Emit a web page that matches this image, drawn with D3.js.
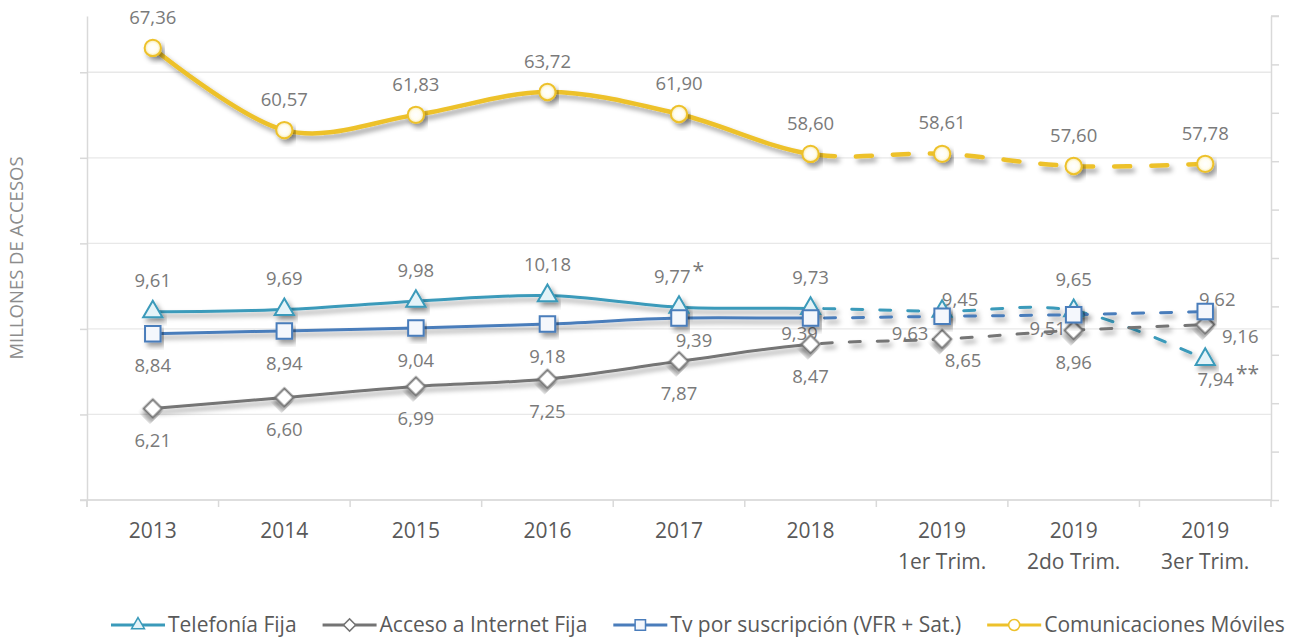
<!DOCTYPE html>
<html>
<head>
<meta charset="utf-8">
<script src="https://cdnjs.cloudflare.com/ajax/libs/d3/7.8.5/d3.min.js"></script>
<style>
  body { margin: 0; background: #fff; }
  svg { display: block; }
</style>
</head>
<body>
<div id="chart"></div>
<script>
// data
var categories = ["2013", "2014", "2015", "2016", "2017", "2018", "2019-T1", "2019-T2", "2019-T3"];
var tickLine1 = ["2013", "2014", "2015", "2016", "2017", "2018", "2019", "2019", "2019"];
var tickLine2 = ["", "", "", "", "", "", "1er Trim.", "2do Trim.", "3er Trim."];

var telefonia = [9.61, 9.69, 9.98, 10.18, 9.77, 9.73, 9.63, 9.65, 7.94];
var internet  = [6.21, 6.60, 6.99, 7.25, 7.87, 8.47, 8.65, 8.96, 9.16];
var tv        = [8.84, 8.94, 9.04, 9.18, 9.39, 9.39, 9.45, 9.51, 9.62];
var moviles   = [67.36, 60.57, 61.83, 63.72, 61.90, 58.60, 58.61, 57.60, 57.78];

var seriesNames = ["Telefonía Fija", "Acceso a Internet Fija", "Tv por suscripción (VFR + Sat.)", "Comunicaciones Móviles"];
var leftGrid = [30, 37.07, 44.14, 51.21, 58.28, 65.35];
var rightTicks = [3, 4.7, 6.4, 8.1, 9.8, 11.5, 13.2, 14.9, 16.6, 18.3, 20];
var lastSolid = "2018";

var width = 1303, height = 638;
var plot = {left: 87, right: 1271, top: 16, bottom: 500};

var svg = d3.select("#chart").append("svg")
    .attr("width", width)
    .attr("height", height);

var defs = svg.append("defs");
var f = defs.append("filter").attr("id", "shadow")
    .attr("x", "-20%").attr("y", "-50%").attr("width", "140%").attr("height", "200%");
f.append("feDropShadow").attr("dx", 3).attr("dy", 4).attr("stdDeviation", 2.8)
    .attr("flood-color", "#000").attr("flood-opacity", 0.38);

var grad = defs.append("radialGradient").attr("id", "ballFill");
grad.append("stop").attr("offset", "0%").attr("stop-color", "#ffffff");
grad.append("stop").attr("offset", "60%").attr("stop-color", "#fffdf0");
grad.append("stop").attr("offset", "100%").attr("stop-color", "#f6e7a6");

var x = d3.scaleBand().domain(categories).range([plot.left, plot.right]);
var cx = function(c) { return x(c) + x.bandwidth() / 2; };
var yL = d3.scaleLinear().domain([30, 70]).range([plot.bottom, plot.top]);
var yR = d3.scaleLinear().domain([3, 20]).range([plot.bottom, plot.top]);

defs.append("clipPath").attr("id", "solidClip").append("rect")
    .attr("x", 0).attr("y", 0).attr("width", cx(lastSolid)).attr("height", height);
defs.append("clipPath").attr("id", "dashClip").append("rect")
    .attr("x", cx(lastSolid)).attr("y", 0).attr("width", width).attr("height", height);

// gridlines
svg.append("g").selectAll("line").data(leftGrid).join("line")
    .attr("x1", plot.left).attr("x2", plot.right)
    .attr("y1", function(d) { return yL(d); })
    .attr("y2", function(d) { return yL(d); })
    .attr("stroke", "#e8e8e8").attr("stroke-width", 1.3);

// axes
var axisColor = "#d9d9d9";
var leftAxis = svg.append("g").attr("transform", `translate(${plot.left},0)`)
    .call(d3.axisLeft(yL).tickValues(leftGrid).tickSize(7).tickSizeOuter(0).tickFormat(""));
var rightAxis = svg.append("g").attr("transform", `translate(${plot.right},0)`)
    .call(d3.axisRight(yR).tickValues(rightTicks).tickSize(8).tickSizeOuter(0).tickFormat(""));
[leftAxis, rightAxis].forEach(function(a) {
  a.selectAll("path,line").attr("stroke", axisColor).attr("stroke-width", 1.5);
});
rightAxis.append("line").attr("y1", plot.top).attr("y2", plot.top).attr("x2", 8)
    .attr("stroke", axisColor).attr("stroke-width", 1.5);
[plot.left, plot.right].forEach(function(px) {
  svg.append("line").attr("x1", px).attr("x2", px)
      .attr("y1", plot.bottom).attr("y2", plot.bottom + 7)
      .attr("stroke", axisColor).attr("stroke-width", 1.5);
});

var xAxis = svg.append("g");
xAxis.append("line").attr("x1", plot.left - 7).attr("x2", plot.right)
    .attr("y1", plot.bottom).attr("y2", plot.bottom)
    .attr("stroke", axisColor).attr("stroke-width", 1.5);
xAxis.selectAll("line.tick").data(categories).join("line").attr("class", "tick")
    .attr("x1", function(d) { return x(d); }).attr("x2", function(d) { return x(d); })
    .attr("y1", plot.bottom).attr("y2", plot.bottom + 7)
    .attr("stroke", axisColor).attr("stroke-width", 1.5);
var tl = xAxis.selectAll("text").data(categories).join("text")
    .attr("x", function(d) { return cx(d); })
    .attr("y", 538)
    .attr("text-anchor", "middle")
    .style("font-family", "'Open Sans', sans-serif")
    .style("font-size", "21px")
    .style("fill", "#595959");
tl.append("tspan").attr("x", function(d) { return cx(d); })
    .text(function(d, i) { return tickLine1[i]; });
tl.append("tspan").attr("x", function(d) { return cx(d); }).attr("dy", 31)
    .text(function(d, i) { return tickLine2[i]; });

svg.append("text")
    .attr("transform", "translate(23,258) rotate(-90)")
    .attr("text-anchor", "middle")
    .style("font-family", "'Open Sans', sans-serif")
    .style("font-size", "18.5px")
    .style("fill", "#8c8c8c")
    .text("MILLONES DE ACCESOS");

var fmt = d3.formatLocale({decimal: ",", thousands: ".", grouping: [3], currency: ["", ""]}).format(".2f");

// label placement (offsets from the marker) for each series
var place = {
  above: [0, -31], below: [0, 32]
};
var series = [
  {name: seriesNames[0], values: telefonia, y: yR, color: "#3a9aba", fill: "#e4f3f8", width: 3, marker: "triangle",
   labels: ["above", "above", "above", "above", "above", "above", [-32, 22], "above", [23, 20]],
   suffix: {4: "*", 8: "**"}},
  {name: seriesNames[1], values: internet, y: yR, color: "#747474", fill: "#ffffff", width: 3, marker: "diamond",
   labels: ["below", "below", "below", "below", "below", "below", [21, 21], "below", [35, 12]], suffix: {}},
  {name: seriesNames[2], values: tv, y: yR, color: "#4a7dbb", fill: "#f4f7fc", width: 3, marker: "square",
   labels: ["below", "below", "below", "below", [15, 22], [-11, 15], [18, -17], [-26, 14], [12, -12]], suffix: {}},
  {name: seriesNames[3], values: moviles, y: yL, color: "#edc12b", fill: "url(#ballFill)", width: 4.5, marker: "circle",
   labels: ["above", "above", "above", "above", "above", "above", "above", "above", "above"], suffix: {}}
];

function symbolPath(kind, scale) {
  scale = scale || 1;
  if (kind === "triangle") return d3.symbol(d3.symbolTriangle, 160 * scale)();
  if (kind === "square") return d3.symbol(d3.symbolSquare, 240 * scale)();
  if (kind === "diamond") return d3.symbol(d3.symbolSquare, 165 * scale)();
  return d3.symbol(d3.symbolCircle, 210 * scale)();
}

var labelLayer = svg.append("g");
var lineLayer = svg.append("g");
var markerLayer = svg.append("g");

series.forEach(function(s) {
  var pts = categories.map(function(c, i) { return [cx(c), s.y(s.values[i])]; });
  var line = d3.line().curve(d3.curveCardinal.tension(0));
  var p = line(pts);
  var dash = s.width > 4 ? "16,21" : "11,17";
  lineLayer.append("path").attr("d", p)
      .attr("clip-path", "url(#solidClip)")
      .attr("fill", "none").attr("stroke", s.color).attr("stroke-width", s.width)
      .attr("stroke-linecap", "round")
      .attr("filter", "url(#shadow)");
  lineLayer.append("path").attr("d", p)
      .attr("clip-path", "url(#dashClip)")
      .attr("fill", "none").attr("stroke", s.color).attr("stroke-width", s.width)
      .attr("stroke-dasharray", dash)
      .attr("stroke-linecap", "round")
      .attr("filter", "url(#shadow)");

  markerLayer.selectAll(null).data(pts).join("path")
      .attr("d", symbolPath(s.marker))
      .attr("transform", function(d) {
        return `translate(${d[0]},${d[1]})` + (s.marker === "diamond" ? " rotate(45)" : "");
      })
      .attr("fill", s.fill).attr("stroke", s.color).attr("stroke-width", 2)
      .attr("filter", "url(#shadow)");

  var lab = labelLayer.selectAll(null).data(pts).join("text")
      .attr("x", function(d, i) { var o = s.labels[i]; o = typeof o === "string" ? place[o] : o; return d[0] + o[0]; })
      .attr("y", function(d, i) { var o = s.labels[i]; o = typeof o === "string" ? place[o] : o; return d[1] + o[1]; })
      .attr("dy", "0.36em")
      .attr("text-anchor", "middle")
      .style("font-family", "'Open Sans', sans-serif")
      .style("font-size", "18.5px")
      .style("fill", "#7a7a7a");
  lab.append("tspan").text(function(d, i) { return fmt(s.values[i]); });
  lab.append("tspan").attr("dx", 2).attr("dy", "-0.25em").style("font-size", "21px")
      .text(function(d, i) { return s.suffix[i] || ""; });
});

// legend
var legend = svg.append("g");
var lx = 111;
series.forEach(function(s) {
  var g = legend.append("g").attr("transform", `translate(${lx},625)`);
  g.append("line").attr("x1", 0).attr("x2", 54).attr("stroke", s.color).attr("stroke-width", 3);
  g.append("path").attr("d", symbolPath(s.marker, 0.45))
      .attr("transform", "translate(27,0)" + (s.marker === "diamond" ? " rotate(45)" : ""))
      .attr("fill", s.marker === "circle" ? "#fff" : s.fill).attr("stroke", s.color).attr("stroke-width", 1.5);
  var t = g.append("text").attr("x", 57).attr("dy", "0.35em")
      .style("font-family", "'Open Sans', sans-serif")
      .style("font-size", "21px")
      .style("fill", "#595959")
      .text(s.name);
  lx += 57 + t.node().getComputedTextLength() + 26;
});
</script>
</body>
</html>
